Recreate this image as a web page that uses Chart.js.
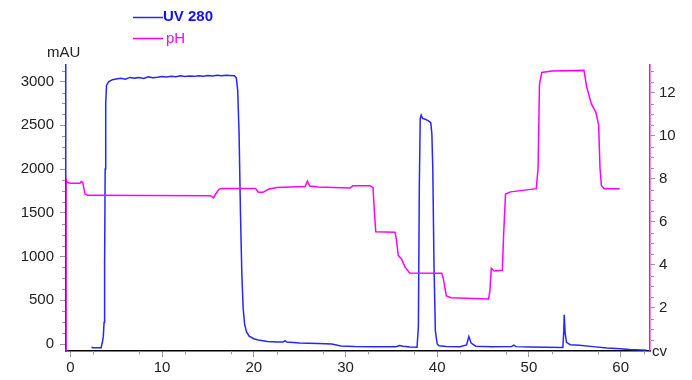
<!DOCTYPE html>
<html>
<head>
<meta charset="utf-8">
<script src="https://cdn.jsdelivr.net/npm/chart.js@4/dist/chart.umd.min.js"></script>
<style>
  html, body { margin: 0; padding: 0; background: #fff; }
  #wrap { width: 692px; height: 380px; position: relative; }
</style>
</head>
<body>
<div id="wrap"><canvas id="chart"></canvas></div>
<script>
// UV 280 trace (column volumes / mAU)
var uvCv = [2.36, 2.4, 3.35, 3.5, 3.6, 3.68, 3.74, 3.8, 3.86, 3.95, 4.2, 4.6, 5.0, 5.5, 6.0, 6.5, 7.0, 7.5,
  8.0, 8.5, 9.0, 9.5, 10.0, 10.5, 11.0, 11.5, 12.0, 12.5, 13.0, 13.5, 14.0, 14.5, 15.0, 15.5,
  16.0, 16.5, 17.0, 17.4, 17.9, 18.1, 18.25, 18.4, 18.55, 18.7, 18.85, 19.0, 19.2, 19.5, 20.0,
  20.5, 21.5, 22.5, 23.2, 23.4, 23.6, 25.0, 27.0, 28.5, 29.5, 31.0, 33.0, 35.5, 35.9, 36.3,
  37.0, 37.8, 37.95, 38.05, 38.15, 38.25, 38.4, 38.7, 39.0, 39.3, 39.42, 39.52, 39.65, 39.8,
  40.0, 40.2, 41.0, 42.5, 43.2, 43.45, 43.7, 44.2, 46.0, 48.1, 48.35, 48.6, 50.0, 53.7, 53.8,
  53.85, 53.95, 54.1, 54.5, 55.5, 57.0, 58.5, 60.0, 61.0, 62.8];
var uvMau = [-30, -42, -42, 20, 90, 250, 900, 2000, 2750, 2960, 3000, 3022, 3030, 3038, 3028, 3048, 3040, 3046,
  3036, 3054, 3044, 3050, 3058, 3052, 3062, 3055, 3066, 3058, 3064, 3060, 3068, 3061, 3070, 3064,
  3072, 3066, 3074, 3070, 3066, 3040, 2900, 2400, 1500, 800, 400, 230, 140, 90, 60,
  45, 30, 22, 22, 38, 22, 12, 5, 0, -22, -28, -30, -30, -18, -25,
  -35, -38, 200, 1800, 2580, 2617, 2580, 2570, 2555, 2530, 2400, 2000, 900, 150,
  0, -20, -28, -30, -10, 85, 10, -25, -32, -30, -12, -30, -35, -40, 150,
  335, 120, 20, -8, -15, -30, -45, -55, -62, -70];

// pH trace
var phCv = [-0.47, -0.47, -0.35, 0, 1.05, 1.2, 1.35, 1.6, 1.9, 15.3, 15.6, 15.85, 16.2, 16.5, 20.2,
  20.5, 21.0, 21.6, 22.5, 25.6, 25.85, 26.1, 27.0, 30.5, 30.8, 32.7, 33.0, 33.15, 33.3, 35.4,
  35.55, 35.75, 36.1, 36.5, 37.0, 40.5, 40.7, 41.0, 41.5, 45.6, 45.75, 45.9, 46.2, 47.1, 47.25,
  47.45, 48.0, 50.8, 51.0, 51.15, 51.4, 52.5, 56.0, 56.3, 56.8, 57.3, 57.6, 57.75, 57.9, 58.2, 59.9];
var phVal = [0, 8.0, 7.85, 7.8, 7.8, 7.88, 7.85, 7.3, 7.24, 7.22, 7.12, 7.3, 7.52, 7.56, 7.56,
  7.38, 7.38, 7.52, 7.6, 7.65, 7.9, 7.67, 7.63, 7.58, 7.68, 7.68, 7.6, 6.5, 5.55, 5.52,
  5.2, 4.45, 4.28, 3.9, 3.63, 3.62, 3.3, 2.56, 2.48, 2.42, 2.8, 3.85, 3.72, 3.75, 5.5,
  7.3, 7.4, 7.55, 8.5, 12.4, 12.95, 13.02, 13.05, 12.28, 11.5, 11.1, 10.5, 8.5, 7.7, 7.55, 7.55];

var xMajor = [0, 10, 20, 30, 40, 50, 60];
var uvMajor = [0, 500, 1000, 1500, 2000, 2500, 3000];
var phMajor = [2, 4, 6, 8, 10, 12];

var BLUE = 'rgb(38,38,255)';
var MAGENTA = '#ff00ff';
var TICK_GREY = '#9a9a9a';
var FONT = '"Liberation Sans", Arial, sans-serif';

function pairs(xs, ys) {
  return xs.map(function (x, i) { return { x: x, y: ys[i] }; });
}

function fixTicks(values) {
  return function (scale) {
    scale.ticks = values.map(function (v) { return { value: v }; });
  };
}

function plain(v) { return String(v); }

// minor ticks, axis unit labels and the two-line legend
var extras = {
  id: 'extras',
  afterDraw: function (chart) {
    var ctx = chart.ctx, a = chart.chartArea;
    var sx = chart.scales.x, sy = chart.scales.y, sp = chart.scales.y1;
    ctx.save();
    ctx.strokeStyle = TICK_GREY;
    ctx.lineWidth = 1;
    ctx.beginPath();
    var v, p;
    for (v = 2.5; v < sx.max; v += 5) {
      p = Math.round(sx.getPixelForValue(v)) + 0.5;
      ctx.moveTo(p, a.bottom); ctx.lineTo(p, a.bottom + 3.5);
    }
    for (v = 125; v < sy.max; v += 125) {
      if (v % 500 === 0) continue;
      p = Math.round(sy.getPixelForValue(v)) + 0.5;
      ctx.moveTo(a.left - 4, p); ctx.lineTo(a.left - 1, p);
    }
    for (v = 0.5; v <= sp.max; v += 0.5) {
      if (v % 2 === 0) continue;
      p = Math.round(sp.getPixelForValue(v)) + 0.5;
      ctx.moveTo(a.right + 1, p); ctx.lineTo(a.right + 4, p);
    }
    ctx.stroke();

    ctx.fillStyle = '#222';
    ctx.font = '15px ' + FONT;
    ctx.textBaseline = 'middle';
    ctx.textAlign = 'left';
    ctx.fillText('mAU', 47, 53);
    ctx.fillText('cv', 652, 352);

    // legend
    ctx.lineWidth = 1.5;
    ctx.strokeStyle = BLUE;
    ctx.beginPath(); ctx.moveTo(133, 17.5); ctx.lineTo(163, 17.5); ctx.stroke();
    ctx.strokeStyle = MAGENTA;
    ctx.beginPath(); ctx.moveTo(133, 38.5); ctx.lineTo(163, 38.5); ctx.stroke();
    ctx.font = 'bold 15px ' + FONT;
    ctx.fillStyle = '#1010ff';
    ctx.fillText('UV 280', 163, 17);
    ctx.font = '15px ' + FONT;
    ctx.fillStyle = MAGENTA;
    ctx.fillText('pH', 166, 39);
    ctx.restore();
  }
};

new Chart(document.getElementById('chart'), {
  type: 'line',
  data: {
    datasets: [
      { label: 'pH', data: pairs(phCv, phVal), yAxisID: 'y1', borderColor: MAGENTA,
        borderWidth: 1.5, pointRadius: 0, tension: 0, fill: false },
      { label: 'UV 280', data: pairs(uvCv, uvMau), yAxisID: 'y', borderColor: BLUE,
        borderWidth: 1.5, pointRadius: 0, tension: 0, fill: false }
    ]
  },
  options: {
    responsive: true,
    maintainAspectRatio: false,
    animation: false,
    layout: { padding: { top: 65, left: 0, right: 0, bottom: 0 } },
    plugins: { legend: { display: false }, tooltip: { enabled: false } },
    scales: {
      x: {
        type: 'linear', min: -0.47, max: 63.2,
        afterBuildTicks: fixTicks(xMajor),
        afterFit: function (s) { s.height = 29; },
        grid: { drawOnChartArea: false, tickLength: 6, color: TICK_GREY },
        border: { color: '#000', width: 1.5 },
        ticks: { color: '#222', font: { family: FONT, size: 15 }, padding: 2, maxRotation: 0, callback: plain }
      },
      y: {
        position: 'left', min: -80, max: 3190,
        afterBuildTicks: fixTicks(uvMajor),
        afterFit: function (s) { s.width = 66; },
        grid: { drawOnChartArea: false, tickLength: 6, color: TICK_GREY },
        border: { color: BLUE, width: 1.5 },
        ticks: { color: '#222', font: { family: FONT, size: 15 }, padding: 6, callback: plain }
      },
      y1: {
        position: 'right', min: 0, max: 13.3,
        afterBuildTicks: fixTicks(phMajor),
        afterFit: function (s) { s.width = 42; },
        grid: { drawOnChartArea: false, tickLength: 5, color: TICK_GREY },
        border: { color: MAGENTA, width: 1.5 },
        ticks: { color: '#222', font: { family: FONT, size: 15 }, padding: 4, callback: plain }
      }
    }
  },
  plugins: [extras]
});
</script>
</body>
</html>
